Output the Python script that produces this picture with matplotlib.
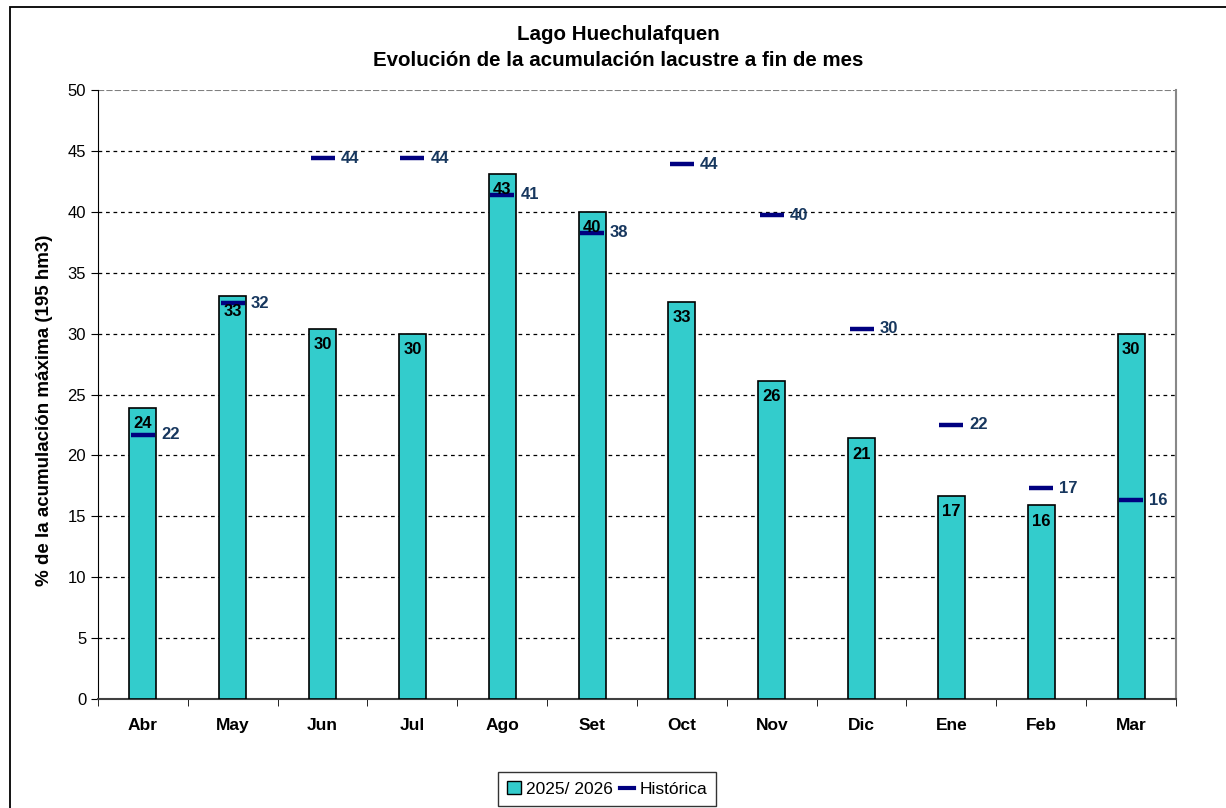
import matplotlib.pyplot as plt
from matplotlib.patches import Patch, Rectangle
from matplotlib.lines import Line2D

plt.rcParams['font.family'] = ['Liberation Sans', 'DejaVu Sans']

# data
months = ['Abr', 'May', 'Jun', 'Jul', 'Ago', 'Set', 'Oct', 'Nov', 'Dic', 'Ene', 'Feb', 'Mar']
actual = [23.9, 33.1, 30.4, 30.0, 43.1, 40.0, 32.6, 26.1, 21.4, 16.7, 15.9, 30.0]
historica = [21.7, 32.5, 44.4, 44.4, 41.4, 38.3, 43.9, 39.7, 30.4, 22.5, 17.3, 16.3]

BAR_COLOR = '#33CCCC'
HIST_COLOR = '#000080'
HIST_TEXT = '#17375E'

fig = plt.figure(figsize=(12.26, 8.08), dpi=100)
ax = fig.add_axes([0.0799, 0.1349, 0.8793, 0.7537])

x = list(range(len(months)))
ax.bar(x, actual, width=0.3, color=BAR_COLOR, edgecolor='black', linewidth=1.2, zorder=3)
ax.plot(x, historica, ls='none', marker='_', markersize=17, mew=3.2, color=HIST_COLOR, zorder=4)

for xi, v in zip(x, actual):
    ax.annotate(f'{v:.0f}', (xi, v), xytext=(0, -6), textcoords='offset points',
                ha='center', va='top', fontsize=12, fontweight='bold', color='black', zorder=5)
for xi, v in zip(x, historica):
    ax.annotate(f'{v:.0f}', (xi, v), xytext=(13, 0), textcoords='offset points',
                ha='left', va='center', fontsize=12, fontweight='bold', color=HIST_TEXT, zorder=5)

ax.set_xlim(-0.5, len(months) - 0.5)
ax.set_ylim(0, 50)
ax.set_yticks(range(0, 51, 5))
ax.tick_params(axis='y', labelsize=12, direction='out', length=5)
ax.set_xticks(x)
ax.set_xticklabels(months, fontsize=12.5, fontweight='bold')
ax.tick_params(axis='x', length=0, pad=14)
ax.set_xticks([i - 0.5 for i in range(len(months) + 1)], minor=True)
ax.tick_params(axis='x', which='minor', length=5, direction='out')

for y in range(5, 50, 5):
    ax.axhline(y, color='black', lw=0.9, ls=(0, (3, 3)), zorder=1)
ax.axhline(50, color='gray', lw=1.5, ls=(0, (3, 1)), zorder=1)

ax.spines['top'].set_visible(False)
ax.spines['right'].set_color('#888888')
ax.spines['right'].set_linewidth(1.5)
ax.spines['left'].set_color('black')
ax.spines['bottom'].set_color('#404040')
ax.spines['bottom'].set_linewidth(1.5)

ax.set_ylabel('% de la acumulación máxima (195 hm3)', fontsize=13.5, fontweight='bold')
ax.yaxis.set_label_coords(-0.0417, 0.4745)

fig.text(618 / 1226, 1 - 35 / 808, 'Lago Huechulafquen', ha='center', va='center',
         fontsize=14.8, fontweight='bold')
fig.text(618 / 1226, 1 - 60 / 808, 'Evolución de la acumulación lacustre a fin de mes',
         ha='center', va='center', fontsize=14.8, fontweight='bold')

handles = [Patch(facecolor=BAR_COLOR, edgecolor='black', label='2025/ 2026'),
           Line2D([0], [0], color=HIST_COLOR, lw=3, label='Histórica')]
leg = fig.legend(handles=handles, loc='center', bbox_to_anchor=(607 / 1226, 1 - 789 / 808),
                 ncol=2, fontsize=12.5, frameon=True, fancybox=False, handlelength=0.8,
                 handleheight=0.8, handletextpad=0.3, columnspacing=0.4, borderpad=0.5)
leg.get_frame().set_edgecolor('black')
leg.get_frame().set_linewidth(1.0)

# outer chart border (cut off at right and bottom)
fig.add_artist(Rectangle((10 / 1226, -0.1), 1.2, 1 - 7 / 808 + 0.1, transform=fig.transFigure,
                         fill=False, edgecolor='black', lw=1.3))

fig.savefig('out.png', dpi=100)
